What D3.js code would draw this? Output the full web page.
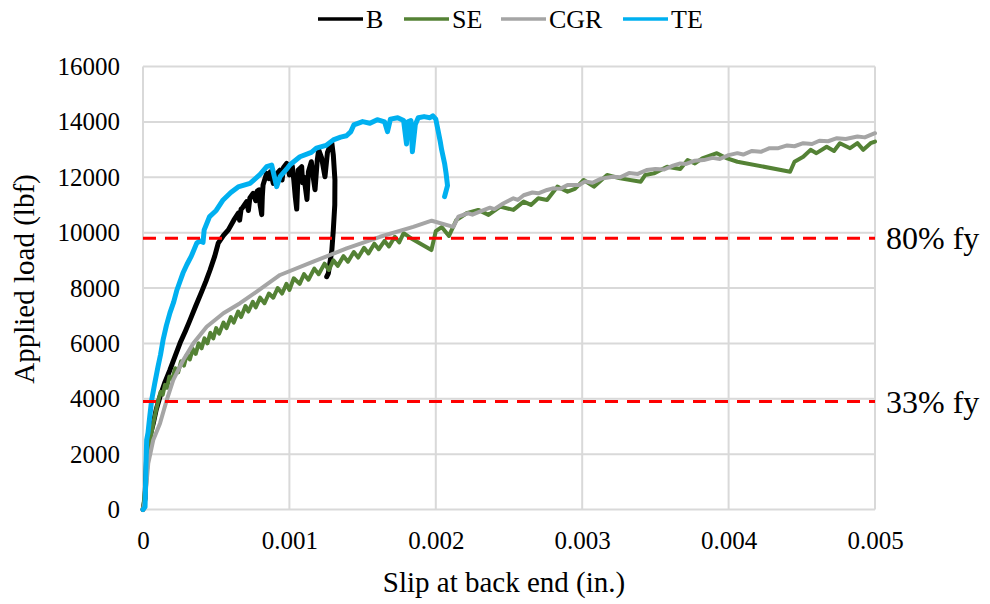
<!DOCTYPE html>
<html>
<head>
<meta charset="utf-8">
<script src="https://cdn.jsdelivr.net/npm/d3@7"></script>
<style>
  html, body { margin: 0; padding: 0; background: #fff; }
  svg { display: block; }
  text { font-family: "Liberation Serif", "Times New Roman", serif; fill: #000; }
</style>
</head>
<body>
<svg id="chart" width="990" height="604"></svg>
<script>
// Series: [slip (in.), applied load (lbf)]
const seriesNames = ["B", "SE", "CGR", "TE"];
const seriesColors = ["#000000", "#548235", "#a5a5a5", "#00b0f0"];

const dataB = [
  [0,0],[0.000003,50],[0.000014,400],[0.00002,1200],[0.000025,1900],[0.000036,2270],[0.00005,2700],
  [0.00007,3110],[0.00009,3600],[0.000116,4070],[0.00015,4600],[0.000184,5040],[0.00022,5550],
  [0.000253,6010],[0.00029,6450],[0.000321,6840],[0.00036,7350],[0.000401,7870],[0.00043,8250],
  [0.000458,8650],[0.00049,9150],[0.000514,9620],[0.00055,9900],[0.000583,10100],[0.00062,10450],
  [0.000651,10700],[0.00066,10450],[0.00067,10850],[0.00068,10900],[0.000708,11120],[0.00072,10800],
  [0.00073,11250],[0.000753,11420],[0.00077,11150],[0.00078,11500],[0.000792,11540],[0.0008,11000],
  [0.000811,10650],[0.000815,11300],[0.00082,11720],[0.000845,12140],[0.00086,11950],[0.00087,12200],
  [0.00089,11780],[0.00091,12100],[0.000936,12260],[0.00095,11900],[0.00096,12350],[0.000982,12500],
  [0.000995,12200],[0.001,12080],[0.00102,12400],[0.00103,11900],[0.00104,11300],[0.00105,10850],
  [0.00106,12260],[0.001084,12380],[0.00109,11800],[0.0011,12000],[0.00112,11200],[0.00113,12200],
  [0.00115,12560],[0.00116,12100],[0.001175,11550],[0.00119,12600],[0.0012,12990],[0.00122,12700],
  [0.001243,12020],[0.00126,12900],[0.00128,13170],[0.00129,13230],[0.0013,12800],[0.001311,11900],
  [0.00131,11000],[0.0013,10100],[0.00129,9370],[0.001266,8530],[0.001255,8410]
];

const dataSE = [
  [0,0],[0.000007,340],[0.000014,700],[0.000025,1300],[0.000036,1910],[0.00005,2500],[0.00007,3110],
  [0.00009,3600],[0.000105,3950],[0.00012,4250],[0.000135,4150],[0.00015,4500],[0.000165,4400],
  [0.00018,4800],[0.0002,4700],[0.00022,5100],[0.00024,4950],[0.00026,5350],[0.00028,5200],
  [0.0003,5600],[0.00032,5420],[0.00034,5800],[0.00036,5620],[0.00038,6000],[0.0004,5820],
  [0.00042,6180],[0.00044,6000],[0.00046,6380],[0.00048,6180],[0.0005,6550],[0.00052,6350],
  [0.00055,6750],[0.00057,6550],[0.0006,6950],[0.00062,6750],[0.00065,7150],[0.00067,6950],
  [0.0007,7350],[0.00072,7150],[0.00075,7500],[0.00077,7300],[0.0008,7650],[0.00083,7450],
  [0.00086,7800],[0.00089,7650],[0.00092,8000],[0.00095,7800],[0.00098,8150],[0.001,7930],
  [0.00103,8350],[0.00107,8150],[0.0011,8500],[0.00113,8300],[0.00117,8700],[0.0012,8500],
  [0.00124,8880],[0.00127,8650],[0.0013,9000],[0.00133,8800],[0.00137,9150],[0.0014,8950],
  [0.00144,9300],[0.00147,9100],[0.00151,9450],[0.00154,9250],[0.00158,9600],[0.00161,9400],
  [0.00165,9700],[0.00168,9500],[0.00172,9850],[0.00175,9650],[0.00178,9980],[0.00183,9800],
  [0.00197,9370],[0.002,10050],[0.00204,10200],[0.00209,9880],[0.00214,10450],[0.00221,10700],
  [0.00229,10820],[0.00236,10640],[0.00244,10940],[0.00253,10820],[0.0026,11120],[0.00265,11000],
  [0.0027,11240],[0.00276,11180],[0.00283,11660],[0.0029,11480],[0.00295,11580],[0.00301,11900],
  [0.00308,11660],[0.00317,12080],[0.00326,11960],[0.0034,11840],[0.00343,12080],[0.00349,12140],
  [0.00358,12380],[0.00367,12300],[0.00372,12620],[0.00377,12500],[0.00382,12680],[0.00392,12870],
  [0.00399,12680],[0.00406,12560],[0.00442,12200],[0.00445,12560],[0.00451,12740],[0.00456,12990],
  [0.0046,12870],[0.00467,13100],[0.00472,12950],[0.00476,13230],[0.00483,13050],[0.00488,13230],
  [0.00492,12990],[0.00497,13230],[0.005,13290]
];

const dataCGR = [
  [0,0],[0.000007,160],[0.000014,340],[0.000036,1670],[0.00007,2510],[0.000116,3110],[0.000162,3950],
  [0.000207,4680],[0.000275,5400],[0.000344,6000],[0.000435,6600],[0.000549,7090],[0.000663,7450],
  [0.000777,7870],[0.000936,8470],[0.001163,8950],[0.001391,9430],[0.001619,9850],[0.001846,10210],
  [0.001972,10430],[0.00212,10210],[0.002154,10580],[0.00222,10700],[0.00225,10650],[0.0023,10760],
  [0.00237,10900],[0.0024,10850],[0.00246,11050],[0.00253,11240],[0.00256,11180],[0.0026,11350],
  [0.00266,11450],[0.0027,11420],[0.00276,11540],[0.0028,11600],[0.00285,11580],[0.0029,11720],
  [0.00298,11720],[0.00302,11850],[0.00307,11800],[0.00313,11950],[0.00321,12020],[0.00326,12000],
  [0.00332,12150],[0.00338,12120],[0.00344,12260],[0.0035,12300],[0.00356,12280],[0.00362,12420],
  [0.00367,12500],[0.00371,12480],[0.00377,12600],[0.00383,12620],[0.00389,12700],[0.00394,12660],
  [0.004,12800],[0.00406,12870],[0.0041,12820],[0.00416,12950],[0.00422,12920],[0.00428,13050],
  [0.00434,13050],[0.0044,13150],[0.00445,13120],[0.00451,13230],[0.00457,13200],[0.00462,13320],
  [0.00468,13300],[0.00474,13410],[0.0048,13380],[0.00488,13470],[0.00493,13440],[0.005,13590]
];

const dataTE = [
  [0,0],[0.000014,90],[0.00002,1530],[0.000025,2510],[0.000034,2760],[0.000045,3300],[0.000059,3950],
  [0.00008,4550],[0.000102,5150],[0.00012,5600],[0.000137,6120],[0.00016,6650],[0.000184,7100],
  [0.00021,7500],[0.00023,7900],[0.00025,8200],[0.000273,8540],[0.0003,8850],[0.00033,9150],
  [0.000367,9620],[0.00039,9700],[0.00041,9650],[0.000418,10100],[0.000455,10580],[0.0005,10800],
  [0.000547,11180],[0.0006,11450],[0.00065,11650],[0.000731,11780],[0.0008,12100],[0.000845,12380],
  [0.000879,12440],[0.000913,11660],[0.000936,12020],[0.000982,12300],[0.001004,12450],
  [0.001072,12740],[0.00115,12900],[0.001184,13050],[0.00125,13150],[0.0013,13350],[0.00135,13450],
  [0.00139,13500],[0.00142,13650],[0.00144,13890],[0.0015,14010],[0.00155,13950],[0.0016,14080],
  [0.00165,14000],[0.00167,13650],[0.00169,14100],[0.00174,14150],[0.00178,14050],[0.0018,13200],
  [0.00181,14000],[0.00183,14050],[0.00184,12920],[0.00186,13900],[0.00188,14150],[0.00192,14190],
  [0.00196,14150],[0.00198,14220],[0.002,14100],[0.00201,13830],[0.00203,13300],[0.00204,12990],
  [0.00206,12500],[0.00207,12150],[0.00208,11700],[0.00206,11300]
];

// Reference load levels
const refLevels = [9800, 3900];
const refLabels = ["80% fy", "33% fy"];

// Axis ticks
const xTickValues = [0, 0.001, 0.002, 0.003, 0.004, 0.005];
const xTickLabels = ["0", "0.001", "0.002", "0.003", "0.004", "0.005"];
const yTickValues = [0, 2000, 4000, 6000, 8000, 10000, 12000, 14000, 16000];

const xTitle = "Slip at back end (in.)";
const yTitle = "Applied load (lbf)";

const svg = d3.select("#chart");
const plot = { left: 143, right: 875, top: 66.5, bottom: 509.5 };

const x = d3.scaleLinear().domain([0, 0.005]).range([plot.left, plot.right]);
const y = d3.scaleLinear().domain([0, 16000]).range([plot.bottom, plot.top]);

// Gridlines
const grid = svg.append("g");
grid.selectAll("line.h").data(yTickValues).join("line")
  .attr("x1", plot.left).attr("x2", plot.right)
  .attr("y1", d => y(d)).attr("y2", d => y(d))
  .attr("stroke", "#d9d9d9").attr("stroke-width", 2);
grid.selectAll("line.v").data(xTickValues).join("line")
  .attr("y1", plot.top).attr("y2", plot.bottom)
  .attr("x1", d => x(d)).attr("x2", d => x(d))
  .attr("stroke", "#d9d9d9").attr("stroke-width", 2);

// Axes (labels only)
const yAxis = d3.axisLeft(y).tickValues(yTickValues).tickSize(0).tickPadding(23).tickFormat(d3.format("d"));
svg.append("g").attr("transform", `translate(${plot.left},0)`).call(yAxis)
  .call(g => g.select(".domain").remove())
  .selectAll("text").attr("font-size", 25).attr("font-family", "Liberation Serif");

const xAxis = d3.axisBottom(x).tickValues(xTickValues).tickSize(0).tickPadding(22)
  .tickFormat((d, i) => xTickLabels[i]);
svg.append("g").attr("transform", `translate(0,${plot.bottom})`).call(xAxis)
  .call(g => g.select(".domain").remove())
  .selectAll("text").attr("font-size", 25).attr("font-family", "Liberation Serif");

// Series lines
const line = d3.line().x(d => x(d[0])).y(d => y(d[1]));
const allData = [dataB, dataSE, dataCGR, dataTE];
const widths = [5, 4, 4, 5];
svg.append("g").selectAll("path").data(allData).join("path")
  .attr("d", line)
  .attr("fill", "none")
  .attr("stroke", (d, i) => seriesColors[i])
  .attr("stroke-width", (d, i) => widths[i])
  .attr("stroke-linejoin", "round")
  .attr("stroke-linecap", "round");

// Reference lines
svg.append("g").selectAll("line").data(refLevels).join("line")
  .attr("x1", plot.left).attr("x2", plot.right)
  .attr("y1", d => y(d)).attr("y2", d => y(d))
  .attr("stroke", "#ff0000").attr("stroke-width", 3)
  .attr("stroke-dasharray", "13,9");
svg.append("g").selectAll("text").data(refLevels).join("text")
  .attr("x", 886).attr("y", d => y(d) + 11)
  .attr("font-size", 32)
  .text((d, i) => refLabels[i]);

// Axis titles
svg.append("text").attr("x", 504).attr("y", 592).attr("text-anchor", "middle")
  .attr("font-size", 29).text(xTitle);
svg.append("text").attr("transform", "translate(34,279) rotate(-90)").attr("text-anchor", "middle")
  .attr("font-size", 29).text(yTitle);

// Legend
const legendX = [318, 404, 501, 623];
const lg = svg.append("g");
seriesNames.forEach((name, i) => {
  lg.append("line").attr("x1", legendX[i]).attr("x2", legendX[i] + 45)
    .attr("y1", 19).attr("y2", 19)
    .attr("stroke", seriesColors[i]).attr("stroke-width", 3.5);
  lg.append("text").attr("x", legendX[i] + 48).attr("y", 28)
    .attr("font-size", 26).text(name);
});
</script>
</body>
</html>
